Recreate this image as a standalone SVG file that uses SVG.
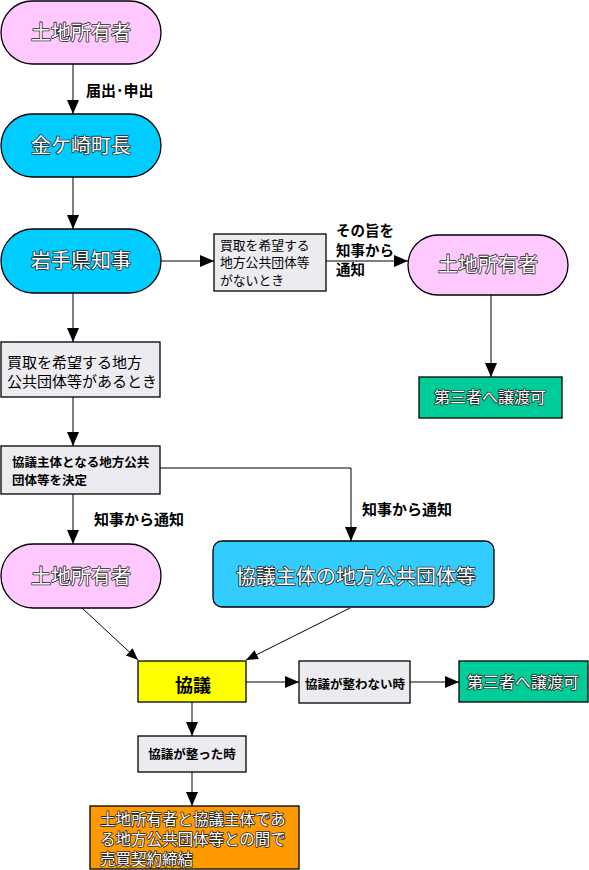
<svg xmlns="http://www.w3.org/2000/svg" width="589" height="870" viewBox="0 0 589 870">
<defs>
<marker id="ah" markerUnits="userSpaceOnUse" markerWidth="14" markerHeight="12" viewBox="0 0 14 12" refX="14" refY="6" orient="auto">
<path d="M0,0 L14,6 L0,12 Z" fill="#000"/>
</marker>
<marker id="ahs" markerUnits="userSpaceOnUse" markerWidth="12" markerHeight="10" viewBox="0 0 12 10" refX="12" refY="5" orient="auto">
<path d="M0,0 L12,5 L0,10 Z" fill="#000"/>
</marker>
</defs>
<style>
text{font-family:"Noto Sans CJK JP","Noto Sans CJK SC",sans-serif;}
.w{fill:#fff;stroke:#222;stroke-width:1.6;paint-order:stroke;stroke-linejoin:round;}
.big{font-size:20px;}
.mid{font-size:16px;}
.ora{font-size:15.5px;}
.lab{font-size:15px;font-weight:bold;fill:#000;}
.lab2{font-size:14.5px;font-weight:bold;fill:#000;}
.sm{font-size:12.5px;font-weight:bold;fill:#000;}
.gt{font-size:12.8px;fill:#000;}
.shp{stroke:#000;stroke-width:1.3;}
.con{stroke:#000;stroke-width:1;fill:none;}
.pink{fill:#FFC8FF;}
.cyan{fill:#00CCFF;}
.cyan2{fill:#33CCFF;}
.grey{fill:#ECEBEF;}
.green{fill:#00CC99;}
.yel{fill:#FFFF00;}
.org{fill:#FF9900;}
</style>
<g id="connectors">
<line class="con" x1="73" y1="64" x2="73" y2="114" marker-end="url(#ah)"/>
<line class="con" x1="73" y1="177" x2="73" y2="229" marker-end="url(#ah)"/>
<line class="con" x1="161" y1="261" x2="214" y2="261" marker-end="url(#ah)"/>
<line class="con" x1="326" y1="261" x2="408" y2="261" marker-end="url(#ah)"/>
<line class="con" x1="491" y1="295" x2="491" y2="377" marker-end="url(#ah)"/>
<line class="con" x1="73" y1="293" x2="73" y2="342" marker-end="url(#ah)"/>
<line class="con" x1="73" y1="397" x2="73" y2="446" marker-end="url(#ah)"/>
<polyline class="con" points="160,468 351,468 351,541" marker-end="url(#ah)"/>
<line class="con" x1="73" y1="494" x2="73" y2="544" marker-end="url(#ah)"/>
<line class="con" x1="82" y1="608" x2="138" y2="660" marker-end="url(#ahs)"/>
<line class="con" x1="350" y1="608" x2="246" y2="660" marker-end="url(#ahs)"/>
<line class="con" x1="246" y1="682" x2="299" y2="682" marker-end="url(#ah)"/>
<line class="con" x1="410" y1="682" x2="459" y2="682" marker-end="url(#ah)"/>
<line class="con" x1="192" y1="702" x2="192" y2="736" marker-end="url(#ah)"/>
<line class="con" x1="192" y1="772" x2="192" y2="806" marker-end="url(#ah)"/>
<text class="lab" x="86" y="96">届出･申出</text>
<text class="lab2" x="336" y="236">その旨を</text>
<text class="lab2" x="336" y="255.5">知事から</text>
<text class="lab2" x="336" y="275">通知</text>
<text class="lab" x="94" y="525">知事から通知</text>
<text class="lab" x="362" y="515">知事から通知</text>
</g>
<g id="owner1">
<rect class="shp pink" x="1" y="1" width="160" height="63" rx="31.5"/>
<text class="w big" x="81" y="40" text-anchor="middle">土地所有者</text>
</g>
<g id="mayor">
<rect class="shp cyan" x="1" y="114" width="160" height="63" rx="31.5"/>
<text class="w big" x="81" y="153" text-anchor="middle">金ケ崎町長</text>
</g>
<g id="governor">
<rect class="shp cyan" x="1" y="229" width="160" height="64" rx="32"/>
<text class="w big" x="81" y="268" text-anchor="middle">岩手県知事</text>
</g>
<g id="no-buyer">
<rect class="shp grey" x="214" y="234" width="112" height="57"/>
<text class="gt" x="220" y="249.5">買取を希望する</text>
<text class="gt" x="220" y="267">地方公共団体等</text>
<text class="gt" x="220" y="284.5">がないとき</text>
</g>
<g id="owner2">
<rect class="shp pink" x="408" y="235" width="160" height="60" rx="30"/>
<text class="w big" x="488" y="272" text-anchor="middle">土地所有者</text>
</g>
<g id="third1">
<rect class="shp green" x="419" y="377" width="143" height="41"/>
<text class="w mid" x="490" y="403" text-anchor="middle">第三者へ譲渡可</text>
</g>
<g id="buyer-exists">
<rect class="shp grey" x="1" y="342" width="159" height="55"/>
<text x="7" y="367.5" style="font-size:15px">買取を希望する地方</text>
<text x="7" y="387" style="font-size:15px">公共団体等があるとき</text>
</g>
<g id="decide">
<rect class="shp grey" x="1" y="446" width="159" height="48"/>
<text class="sm" x="12" y="467">協議主体となる地方公共</text>
<text class="sm" x="12" y="484.5">団体等を決定</text>
</g>
<g id="owner3">
<rect class="shp pink" x="1" y="544" width="160" height="64" rx="32"/>
<text class="w big" x="81" y="584" text-anchor="middle">土地所有者</text>
</g>
<g id="local-gov">
<rect class="shp cyan2" x="213" y="541" width="281" height="66" rx="9"/>
<text class="w big" x="356" y="584" text-anchor="middle">協議主体の地方公共団体等</text>
</g>
<g id="kyogi">
<rect class="shp yel" x="138" y="661" width="108" height="41"/>
<text x="193" y="692" text-anchor="middle" style="font-size:18px;font-weight:bold">協議</text>
</g>
<g id="not-agreed">
<rect class="shp grey" x="299" y="661" width="111" height="42"/>
<text class="sm" x="355" y="689" text-anchor="middle">協議が整わない時</text>
</g>
<g id="third2">
<rect class="shp green" x="459" y="661" width="129" height="41"/>
<text class="w mid" x="523" y="688" text-anchor="middle">第三者へ譲渡可</text>
</g>
<g id="agreed">
<rect class="shp grey" x="138" y="736" width="108" height="36"/>
<text class="sm" x="192" y="759" text-anchor="middle">協議が整った時</text>
</g>
<g id="contract">
<rect class="shp org" x="90" y="806" width="209" height="63"/>
<text class="w ora" x="100" y="824.5">土地所有者と協議主体であ</text>
<text class="w ora" x="100" y="844.5">る地方公共団体等との間で</text>
<text class="w ora" x="100" y="864.5">売買契約締結</text>
</g>
</svg>
